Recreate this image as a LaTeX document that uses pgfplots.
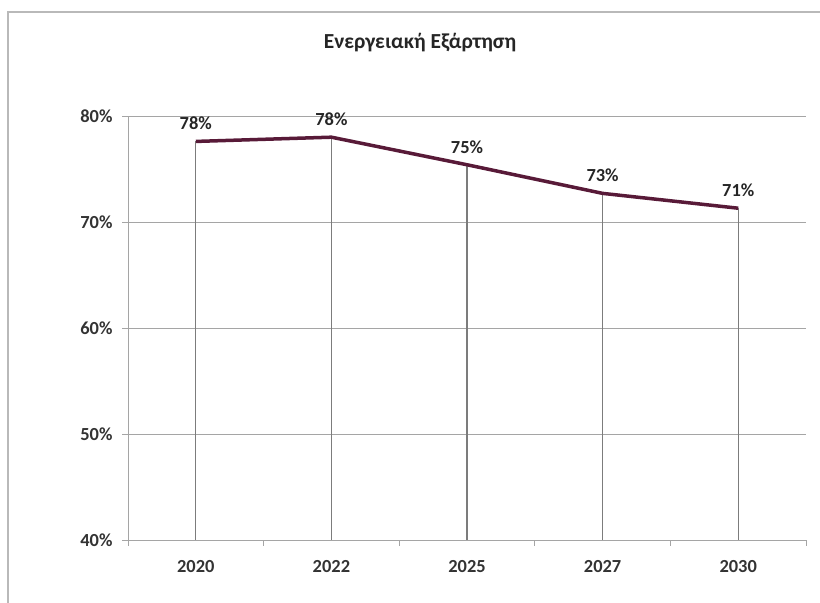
\documentclass[border=0pt]{standalone}
\usepackage{pgfplots}
\pgfplotsset{compat=1.18}
\usepackage{fontspec}
\setmainfont{Carlito}
\definecolor{linec}{RGB}{88,26,56}
\definecolor{gridc}{RGB}{165,165,165}
\begin{document}
\begin{tikzpicture}[x=1bp,y=1bp]
\path[use as bounding box] (0,0) rectangle (820,603);
\draw[gray!55, line width=1.2bp] (8,0) -- (8,591) -- (820,591);
\node[font=\bfseries\fontsize{21.5}{24}\selectfont, text=black!85] at (420,560) {Ενεργειακή Εξάρτηση};
\begin{axis}[
  at={(128bp,63bp)}, anchor=south west,
  scale only axis, width=678bp, height=424bp,
  xmin=-0.5, xmax=4.5, ymin=40, ymax=80,
  xtick={0,1,2,3,4},
  xticklabels={2020,2022,2025,2027,2030},
  minor xtick={-0.5,0.5,1.5,2.5,3.5,4.5},
  major x tick style={draw=none},
  minor x tick style={draw=gridc, line width=0.8bp},
  minor tick length=6bp,
  ytick={40,50,60,70,80},
  yticklabel={\pgfmathprintnumber{\tick}\%},
  major tick length=6bp,
  tick align=outside,
  ymajorgrids,
  major grid style={gridc, line width=0.9bp},
  axis x line*=bottom, axis y line*=left,
  axis line style={gridc, line width=0.9bp},
  y axis line style={-}, x axis line style={-},
  ytick style={draw=gridc, line width=0.9bp},
  tick label style={font=\bfseries\fontsize{18.5}{20}\selectfont, text=black!80},
  /pgf/number format/assume math mode=true,
  xticklabel style={yshift=-11bp},
  yticklabel style={xshift=-6bp},
  clip=true,
]
\addplot[ycomb, draw=gridc!75!black, line width=1.3bp, no marks] coordinates {
(0,77.6) (1,78.0) (2,75.4) (3,72.7) (4,71.3)};
\addplot[linec, line width=3.5bp, no marks,
  nodes near coords, point meta=explicit symbolic,
  every node near coord/.append style={anchor=center, yshift=18bp, font=\bfseries\fontsize{18.5}{20}\selectfont, text=black!85}]
coordinates {
(0,77.6) [78\%]
(1,78.0) [78\%]
(2,75.4) [75\%]
(3,72.7) [73\%]
(4,71.3) [71\%]};
\end{axis}
\end{tikzpicture}
\end{document}
